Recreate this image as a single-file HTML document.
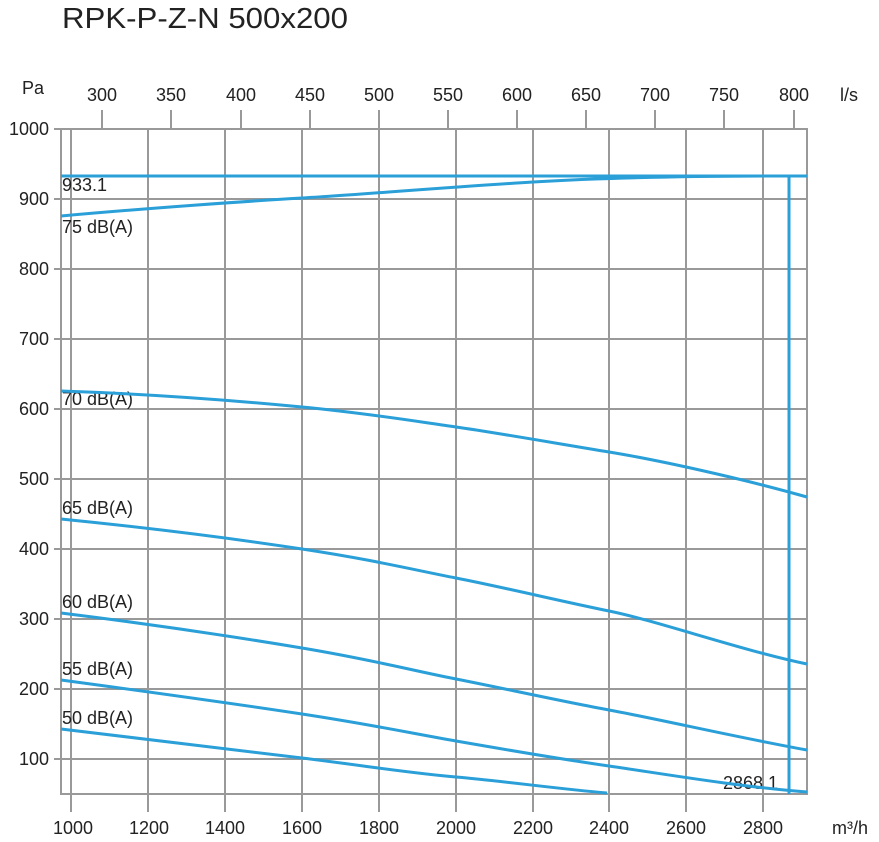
<!DOCTYPE html>
<html><head><meta charset="utf-8"><style>body{margin:0;background:#fff}</style></head><body>
<svg width="879" height="837" viewBox="0 0 879 837" xmlns="http://www.w3.org/2000/svg" font-family="Liberation Sans, sans-serif">
<text x="62" y="28" font-size="29" fill="#222" textLength="286" lengthAdjust="spacingAndGlyphs">RPK-P-Z-N 500x200</text>
<g stroke="#999" stroke-width="2" fill="none">
<rect x="61" y="129" width="746" height="665"/>
<path d="M71 129V794M148 129V794M225 129V794M302 129V794M379 129V794M456 129V794M533 129V794M609 129V794M686 129V794M763 129V794"/>
<path d="M61 199H807M61 269H807M61 339H807M61 409H807M61 479H807M61 549H807M61 619H807M61 689H807M61 759H807"/>
<path d="M102 110V129M171 110V129M241 110V129M310 110V129M379 110V129M448 110V129M517 110V129M586 110V129M655 110V129M724 110V129M794 110V129"/>
<path d="M54 129H61M54 199H61M54 269H61M54 339H61M54 409H61M54 479H61M54 549H61M54 619H61M54 689H61M54 759H61"/>
<path d="M71 794V812M148 794V812M225 794V812M302 794V812M379 794V812M456 794V812M533 794V812M609 794V812M686 794V812M763 794V812"/>
</g>
<g font-size="18" fill="#222">
<g text-anchor="end">
<text x="49" y="135">1000</text><text x="49" y="205">900</text><text x="49" y="275">800</text><text x="49" y="345">700</text><text x="49" y="415">600</text><text x="49" y="485">500</text><text x="49" y="555">400</text><text x="49" y="625">300</text><text x="49" y="695">200</text><text x="49" y="765">100</text>
</g>
<text x="22" y="94">Pa</text>
<g text-anchor="middle">
<text x="102" y="101">300</text><text x="171" y="101">350</text><text x="241" y="101">400</text><text x="310" y="101">450</text><text x="379" y="101">500</text><text x="448" y="101">550</text><text x="517" y="101">600</text><text x="586" y="101">650</text><text x="655" y="101">700</text><text x="724" y="101">750</text><text x="794" y="101">800</text>
<text x="73" y="834">1000</text><text x="149" y="834">1200</text><text x="225" y="834">1400</text><text x="302" y="834">1600</text><text x="379" y="834">1800</text><text x="456" y="834">2000</text><text x="533" y="834">2200</text><text x="609" y="834">2400</text><text x="686" y="834">2600</text><text x="763" y="834">2800</text>
</g>
<text x="840" y="101">l/s</text>
<text x="832" y="834">m³/h</text>
<text x="62" y="191">933.1</text>
<text x="62" y="233">75 dB(A)</text>
<text x="62" y="405">70 dB(A)</text>
<text x="62" y="514">65 dB(A)</text>
<text x="62" y="608">60 dB(A)</text>
<text x="62" y="675">55 dB(A)</text>
<text x="62" y="724">50 dB(A)</text>
<text x="723" y="789">2868.1</text>
</g>
<g stroke="#2a9fd8" stroke-width="3" fill="none" stroke-linejoin="round">
<path d="M61 176H807"/>
<path d="M789 176V794"/>
<path d="M61 216 C150 208 250 201 302 198 S 450 187 533 182 S 700 176 789 176"/>
<path d="M61 391 C150 394 230 400 302 407 S 420 422 456 427 S 560 444 609 452 S 740 478 807 497"/>
<path d="M61 519 C150 528 230 538 302 549 S 410 569 456 578 S 560 601 609 611 S 740 650 807 664"/>
<path d="M61 613 C150 624 230 636 302 648 S 410 670 456 679 S 560 701 609 710 S 740 738 807 750"/>
<path d="M61 680 C150 692 230 703 302 714 S 410 733 456 741 S 560 759 609 766 S 740 787 807 792"/>
<path d="M61 729 C150 740 230 749 302 758 S 410 773 456 777 S 560 789 607 793"/>
</g>
</svg>
</body></html>
